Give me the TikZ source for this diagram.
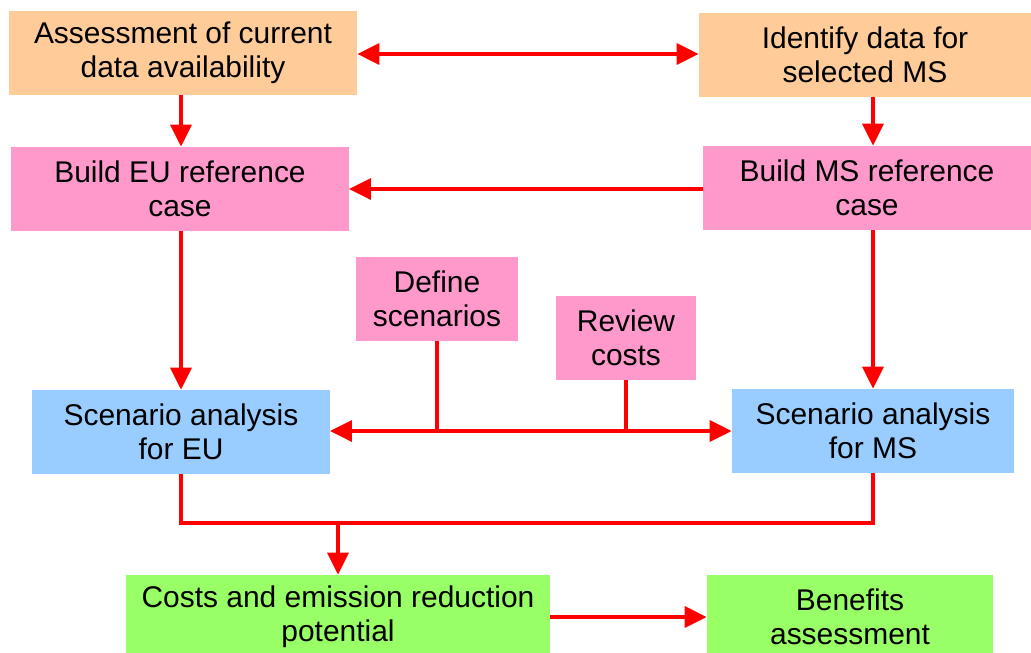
\documentclass[tikz,border=0pt]{standalone}
\usepackage{fontspec}
\setmainfont{Liberation Sans}
\usepackage{tikz}
\usetikzlibrary{positioning,arrows.meta,calc}
\definecolor{datacolor}{RGB}{255, 204, 153}
\definecolor{refcolor}{RGB}{255, 153, 204}
\definecolor{scencolor}{RGB}{153, 204, 255}
\definecolor{resultcolor}{RGB}{153, 255, 102}
\definecolor{flowcolor}{RGB}{255, 0, 0}
\tikzset{
    stage box/.style={rectangle, inner sep=0pt, align=center, minimum height=2.1cm,
        font=\fontsize{21.3}{24.5}\selectfont},
    data box/.style={stage box, fill=datacolor},
    ref box/.style={stage box, fill=refcolor},
    scen box/.style={stage box, fill=scencolor},
    result box/.style={stage box, fill=resultcolor},
    flow line/.style={draw=flowcolor, line width=2.8pt},
    flow arrow/.style={flow line, -{Triangle[length=0.55cm, width=0.52cm]}},
    flow both/.style={flow line, {Triangle[length=0.55cm, width=0.52cm]}-{Triangle[length=0.55cm, width=0.52cm]}}
}
\begin{document}
\begin{tikzpicture}[x=0.025cm, y=-0.025cm]
\useasboundingbox (0,0) rectangle (1031,652);
% data
\node[data box, minimum width=8.7cm] (assess) at (183,53) {Assessment of current\\data availability};
\node[data box, minimum width=8.3cm] (identify) at (865,55) {Identify data for\\selected MS};
% reference cases
\node[ref box, minimum width=8.43cm] (buildEU) at (180,189) {Build EU reference\\case};
\node[ref box, minimum width=8.18cm] (buildMS) at (867,188) {Build MS reference\\case};
\node[ref box, minimum width=4.03cm] (define) at (437,299) {Define\\scenarios};
\node[ref box, minimum width=3.5cm] (review) at (626,338) {Review\\costs};
% scenarios
\node[scen box, minimum width=7.43cm] (scenEU) at (181,432) {Scenario analysis\\for EU};
\node[scen box, minimum width=7.05cm] (scenMS) at (873,431) {Scenario analysis\\for MS};
% results
\node[result box, minimum width=10.58cm] (costs) at (338,617) {Costs and emission reduction\\potential};
\node[result box, minimum width=7.15cm] (benefits) at (850,617) {Benefits\\assessment};

\draw[flow both] (assess.east |- 0,54) -- (identify.west |- 0,54);
\draw[flow arrow] (assess.south -| 181,0) -- (buildEU.north -| 181,0);
\draw[flow arrow] (identify.south -| 873,0) -- (buildMS.north -| 873,0);
\draw[flow arrow] (buildMS.west |- 0,189) -- (buildEU.east |- 0,189);
\draw[flow arrow] (buildEU.south -| 181,0) -- (scenEU.north);
\draw[flow arrow] (buildMS.south -| 873,0) -- (scenMS.north);

\coordinate (split) at (437,431);
\draw[flow line] (define.south) -- (split);
\draw[flow line] (review.south) -- (review.south |- split);
\draw[flow arrow] (split) -- (split -| scenEU.east);
\draw[flow arrow] (split) -- (split -| scenMS.west);

\coordinate (merge) at (338,523);
\draw[flow line] (scenEU.south) |- (merge) -| (scenMS.south);
\draw[flow arrow] (merge) -- (costs.north);
\draw[flow arrow] (costs.east) -- (benefits.west);
\end{tikzpicture}
\end{document}
